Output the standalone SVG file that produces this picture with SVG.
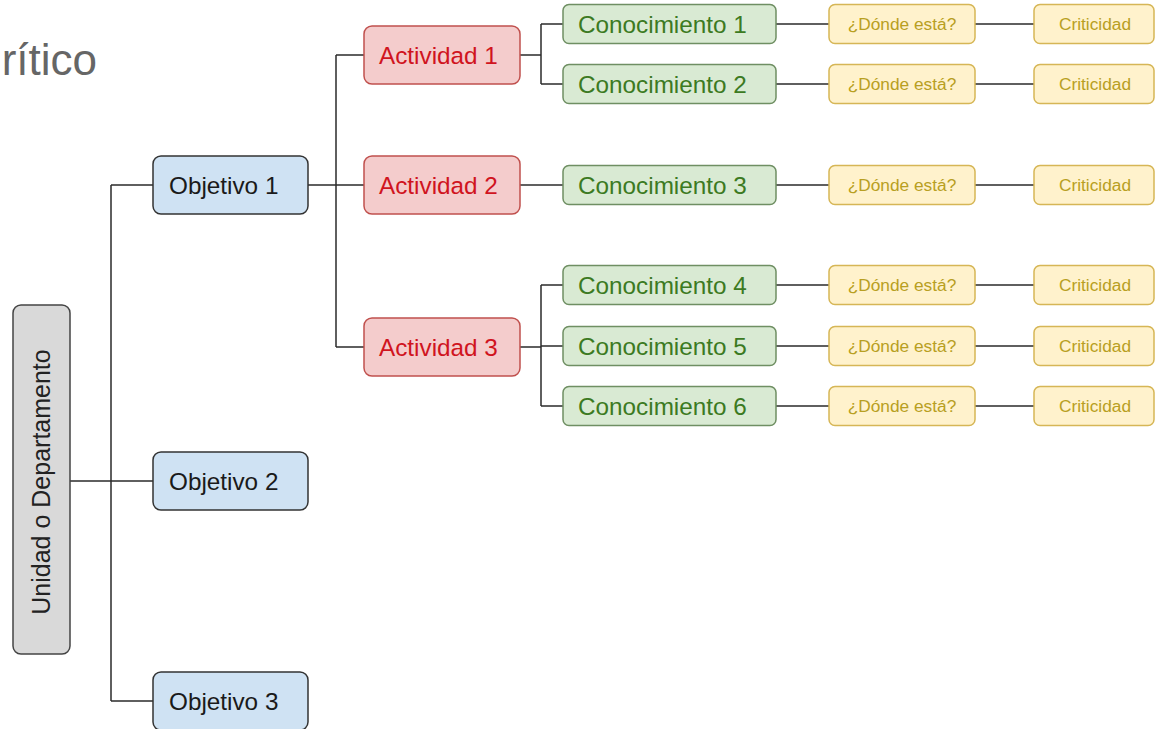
<svg xmlns="http://www.w3.org/2000/svg" width="1155" height="729" viewBox="0 0 1155 729">
<style>
text{font-family:"Liberation Sans",Arial,sans-serif}
.con line,.con path{stroke:#2b2b2b;stroke-width:1.5;fill:none}
.uni rect{fill:#d9d9d9;stroke:#444;stroke-width:1.5}
.uni text{fill:#222;font-size:25px}
.obj rect{fill:#cfe2f3;stroke:#333;stroke-width:1.5}
.obj text{fill:#1a1a1a;font-size:24.3px}
.act rect{fill:#f4cccc;stroke:#c0504d;stroke-width:1.5}
.act text{fill:#d0141e;font-size:24.3px}
.kno rect{fill:#d9ead3;stroke:#6f8f63;stroke-width:1.5}
.kno text{fill:#3c7a22;font-size:24.3px}
.yel rect{fill:#fff2cc;stroke:#d6b656;stroke-width:1.5}
.yel text{fill:#b89f22;font-size:17.3px;text-anchor:middle}
</style>
<text x="97" y="75" font-size="44" fill="#666" text-anchor="end">rítico</text>
<g id="connectors" class="con">
<path d="M70 481H111M111 185V701M111 185H153M111 481H153M111 701H153"/>
<path d="M308 185H364M336 55V347M336 55H364M336 347H364"/>
<path d="M520 55H541M541 24V84M541 24H563M541 84H563"/>
<path d="M520 185H563"/>
<path d="M520 347H541M541 285V406M541 285H563M541 346H563M541 406H563"/>
<path d="M776 24H829M975 24H1034M776 84H829M975 84H1034M776 185H829M975 185H1034M776 285H829M975 285H1034M776 346H829M975 346H1034M776 406H829M975 406H1034"/>
</g>
<g id="unidad" class="uni"><rect x="13" y="305" width="57" height="349" rx="8"/><text transform="translate(49.5 482) rotate(-90)" text-anchor="middle">Unidad o Departamento</text></g>
<g id="objetivo1" class="obj"><rect x="153" y="156" width="155" height="58" rx="8"/><text x="169" y="193.5">Objetivo 1</text></g>
<g id="objetivo2" class="obj"><rect x="153" y="452" width="155" height="58" rx="8"/><text x="169" y="489.5">Objetivo 2</text></g>
<g id="objetivo3" class="obj"><rect x="153" y="672" width="155" height="58" rx="8"/><text x="169" y="709.5">Objetivo 3</text></g>
<g id="actividad1" class="act"><rect x="364" y="26" width="156" height="58" rx="8"/><text x="379" y="63.5">Actividad 1</text></g>
<g id="actividad2" class="act"><rect x="364" y="156" width="156" height="58" rx="8"/><text x="379" y="193.5">Actividad 2</text></g>
<g id="actividad3" class="act"><rect x="364" y="318" width="156" height="58" rx="8"/><text x="379" y="355.5">Actividad 3</text></g>
<g id="conocimiento1" class="kno"><rect x="563" y="4.5" width="213" height="39" rx="6"/><text x="578" y="32.5">Conocimiento 1</text></g>
<g id="conocimiento2" class="kno"><rect x="563" y="64.5" width="213" height="39" rx="6"/><text x="578" y="92.5">Conocimiento 2</text></g>
<g id="conocimiento3" class="kno"><rect x="563" y="165.5" width="213" height="39" rx="6"/><text x="578" y="193.5">Conocimiento 3</text></g>
<g id="conocimiento4" class="kno"><rect x="563" y="265.5" width="213" height="39" rx="6"/><text x="578" y="293.5">Conocimiento 4</text></g>
<g id="conocimiento5" class="kno"><rect x="563" y="326.5" width="213" height="39" rx="6"/><text x="578" y="354.5">Conocimiento 5</text></g>
<g id="conocimiento6" class="kno"><rect x="563" y="386.5" width="213" height="39" rx="6"/><text x="578" y="414.5">Conocimiento 6</text></g>
<g id="donde1" class="yel"><rect x="829" y="4.5" width="146" height="39" rx="6"/><text x="902" y="30">¿Dónde está?</text></g>
<g id="donde2" class="yel"><rect x="829" y="64.5" width="146" height="39" rx="6"/><text x="902" y="90">¿Dónde está?</text></g>
<g id="donde3" class="yel"><rect x="829" y="165.5" width="146" height="39" rx="6"/><text x="902" y="191">¿Dónde está?</text></g>
<g id="donde4" class="yel"><rect x="829" y="265.5" width="146" height="39" rx="6"/><text x="902" y="291">¿Dónde está?</text></g>
<g id="donde5" class="yel"><rect x="829" y="326.5" width="146" height="39" rx="6"/><text x="902" y="352">¿Dónde está?</text></g>
<g id="donde6" class="yel"><rect x="829" y="386.5" width="146" height="39" rx="6"/><text x="902" y="412">¿Dónde está?</text></g>
<g id="criticidad1" class="yel"><rect x="1034" y="4.5" width="120" height="39" rx="6"/><text x="1095" y="30">Criticidad</text></g>
<g id="criticidad2" class="yel"><rect x="1034" y="64.5" width="120" height="39" rx="6"/><text x="1095" y="90">Criticidad</text></g>
<g id="criticidad3" class="yel"><rect x="1034" y="165.5" width="120" height="39" rx="6"/><text x="1095" y="191">Criticidad</text></g>
<g id="criticidad4" class="yel"><rect x="1034" y="265.5" width="120" height="39" rx="6"/><text x="1095" y="291">Criticidad</text></g>
<g id="criticidad5" class="yel"><rect x="1034" y="326.5" width="120" height="39" rx="6"/><text x="1095" y="352">Criticidad</text></g>
<g id="criticidad6" class="yel"><rect x="1034" y="386.5" width="120" height="39" rx="6"/><text x="1095" y="412">Criticidad</text></g>
</svg>
